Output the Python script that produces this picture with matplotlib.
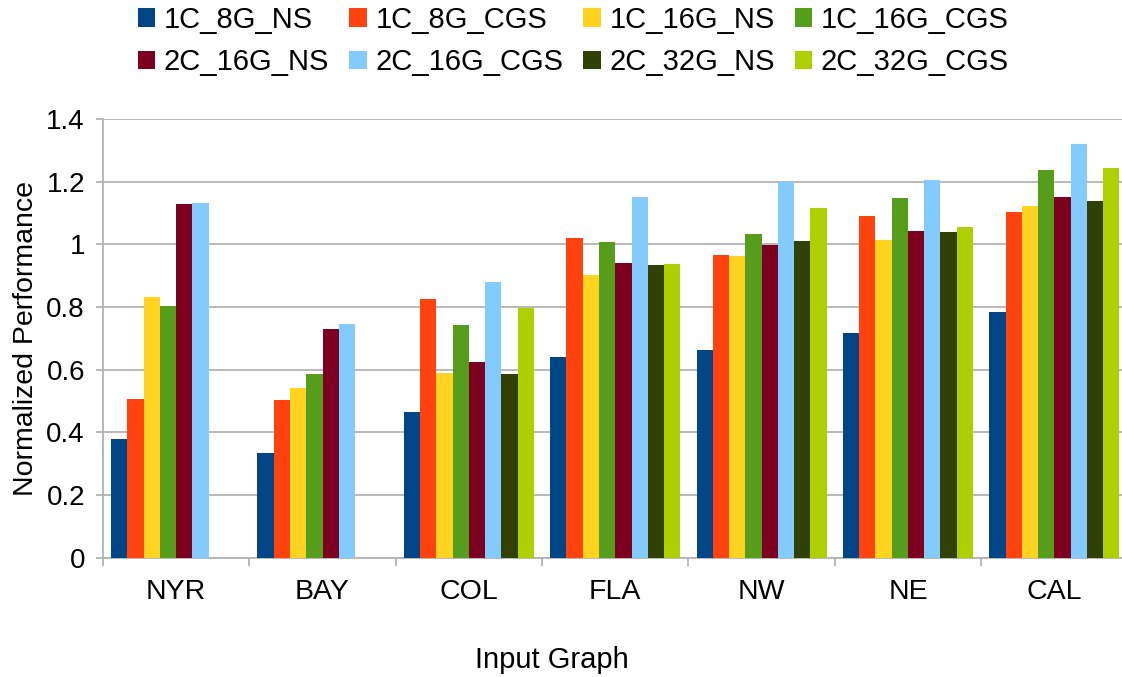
import numpy as np
import matplotlib
matplotlib.use("Agg")
import matplotlib.pyplot as plt
from matplotlib.patches import Patch

plt.rcParams['font.family'] = ['Liberation Sans', 'DejaVu Sans']

graphs = ['NYR', 'BAY', 'COL', 'FLA', 'NW', 'NE', 'CAL']
series = ['1C_8G_NS', '1C_8G_CGS', '1C_16G_NS', '1C_16G_CGS',
          '2C_16G_NS', '2C_16G_CGS', '2C_32G_NS', '2C_32G_CGS']
colors = ['#004586', '#ff420e', '#ffd320', '#579d1c',
          '#7e0021', '#83caff', '#314004', '#aecf00']

# normalized performance per configuration (None = no run on that graph)
c1_8g_ns = [0.379, 0.334, 0.465, 0.640, 0.663, 0.717, 0.784]
c1_8g_cgs = [0.506, 0.503, 0.826, 1.020, 0.966, 1.090, 1.103]
c1_16g_ns = [0.832, 0.543, 0.589, 0.902, 0.963, 1.014, 1.122]
c1_16g_cgs = [0.803, 0.586, 0.743, 1.007, 1.033, 1.148, 1.237]
c2_16g_ns = [1.129, 0.730, 0.624, 0.940, 0.999, 1.043, 1.151]
c2_16g_cgs = [1.132, 0.746, 0.880, 1.151, 1.200, 1.205, 1.320]
c2_32g_ns = [None, None, 0.586, 0.934, 1.011, 1.039, 1.138]
c2_32g_cgs = [None, None, 0.798, 0.937, 1.116, 1.055, 1.244]

data = [c1_8g_ns, c1_8g_cgs, c1_16g_ns, c1_16g_cgs,
        c2_16g_ns, c2_16g_cgs, c2_32g_ns, c2_32g_cgs]

fig = plt.figure(figsize=(11.22, 6.77), dpi=100)
ax = fig.add_axes([103 / 1122, 1 - 557.7 / 677, 1024.5 / 1122, 438.7 / 677])

x = np.arange(len(graphs))
w = 1 / 9
for i, vals in enumerate(data):
    xs = [xi + (i - 3.5) * w for xi, v in zip(x, vals) if v is not None]
    hs = [v for v in vals if v is not None]
    ax.bar(xs, hs, width=w, color=colors[i], linewidth=0, zorder=3)

ax.set_xlim(-0.5, len(graphs) - 0.5)
ax.set_ylim(0, 1.4)
ax.set_yticks(np.arange(0, 1.41, 0.2))
ax.set_yticklabels(['0', '0.2', '0.4', '0.6', '0.8', '1', '1.2', '1.4'])
ax.set_xticks(x)
ax.set_xticklabels(graphs)
ax.set_xticks(np.arange(-0.5, len(graphs), 1), minor=True)

grid_c = '#b3b3b3'
ax.yaxis.grid(True, color=grid_c, linewidth=1.3, zorder=0)
ax.set_axisbelow(True)
for s in ['top', 'right']:
    ax.spines[s].set_visible(False)
for s in ['left', 'bottom']:
    ax.spines[s].set_color(grid_c)
    ax.spines[s].set_linewidth(1.3)

ax.tick_params(axis='y', direction='out', length=5, width=1.3, color=grid_c,
               labelsize=20, pad=8)
ax.tick_params(axis='x', which='major', length=0, labelsize=20.5, pad=15)
ax.tick_params(axis='x', which='minor', direction='out', length=6, width=1.3,
               color=grid_c)

ax.set_ylabel('Normalized Performance', fontsize=20.5, labelpad=5)
fig.text(552 / 1122, 1 - 660 / 677, 'Input Graph', fontsize=21,
         ha='center', va='center')

# legend fills column by column, so feed it in row-major order
order = [0, 4, 1, 5, 2, 6, 3, 7]
handles = [Patch(facecolor=colors[k], edgecolor='none') for k in order]
labels = [series[k] for k in order]
fig.legend(handles, labels, loc='center', bbox_to_anchor=(0.511, 0.9394),
           ncol=4, frameon=False, fontsize=21, handlelength=0.6,
           handleheight=0.6, handletextpad=0.3, columnspacing=0.68,
           labelspacing=0.5, borderpad=0)

fig.savefig('out.png', dpi=100)
